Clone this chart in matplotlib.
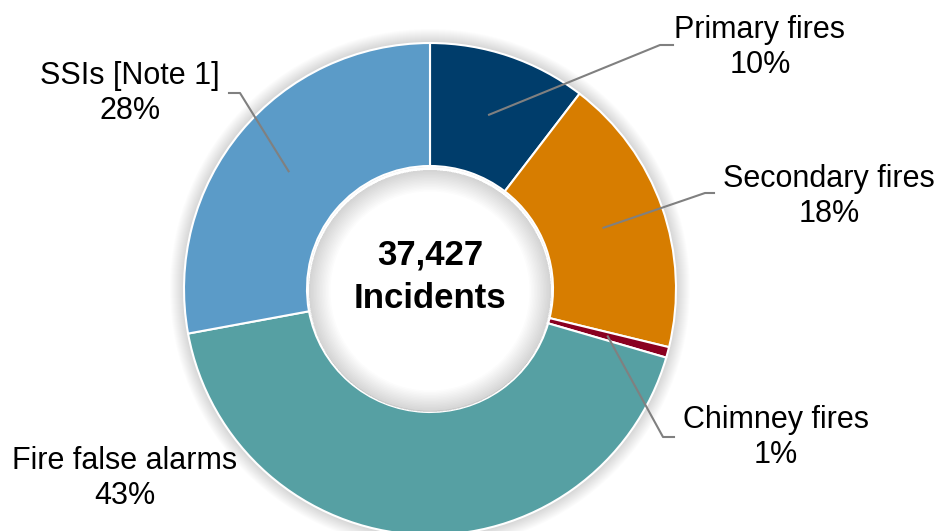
import numpy as np
import matplotlib.pyplot as plt
from matplotlib.patches import Wedge, Circle

plt.rcParams['font.family'] = ['Liberation Sans', 'DejaVu Sans']

# data
categories = ['Primary fires', 'Secondary fires', 'Chimney fires', 'Fire false alarms', 'SSIs [Note 1]']
shares = [10.4, 18.4, 0.7, 42.6, 27.9]
total_incidents = 37427
colors = ['#003d6b', '#d77d00', '#8a0020', '#56a0a3', '#5b9bc8']

W, H = 939, 531
fig = plt.figure(figsize=(W / 100, H / 100), dpi=100)
ax = fig.add_axes([0, 0, 1, 1])


def py(y):
    # pixel row (from top) -> data y
    return H - y


cx, cy = 430, py(289)
R, ring = 246, 123

# soft shadow around outer edge and inside the hole
for i in range(14):
    ax.add_patch(Circle((cx, cy), R + 14 - i, color='black', alpha=0.012, lw=0, zorder=0))
for i in range(14):
    ax.add_patch(Wedge((cx, cy - 2), R - ring - 2, 0, 360, width=2 + i * 1.5,
                       color='black', alpha=0.012, lw=0, zorder=3))

wedges, _ = ax.pie(shares, colors=colors, center=(cx, cy), radius=R, startangle=90,
                   counterclock=False,
                   wedgeprops=dict(width=ring, edgecolor='white', linewidth=1.5))
ax.add_patch(Circle((cx, cy), R - ring - 1, color='white', lw=0, zorder=2))

# labels: (text x, text y of first line, elbow x, elbow y, end x) in pixels
label_pos = {
    'Primary fires': (760, 30, 660, 45, 673),
    'Secondary fires': (829, 179, 705, 193, 714),
    'Chimney fires': (776, 420, 663, 437, 674),
    'Fire false alarms': (125, 461, None, None, None),
    'SSIs [Note 1]': (130, 76, 240, 93, 229),
}

for w, name, share in zip(wedges, categories, shares):
    tx, ty, ex, ey, endx = label_pos[name]
    ax.text(tx, py(ty), name, ha='center', va='center', fontsize=22, color='black', zorder=6)
    ax.text(tx, py(ty + 35), f'{share:.0f}%', ha='center', va='center', fontsize=22,
            color='black', zorder=6)
    if ex is None:
        continue
    mid = np.deg2rad((w.theta1 + w.theta2) / 2)
    sx, sy = cx + 184 * np.cos(mid), cy + 184 * np.sin(mid)
    ax.plot([sx, ex, endx], [sy, py(ey), py(ey)], color='#808080', lw=1.5, zorder=5)

ax.text(cx, py(255), f'{total_incidents:,}', ha='center', va='center', fontsize=25,
        fontweight='bold', zorder=6)
ax.text(cx, py(299), 'Incidents', ha='center', va='center', fontsize=25,
        fontweight='bold', zorder=6)

ax.set_xlim(0, W)
ax.set_ylim(0, H)
ax.set_aspect('equal')
ax.axis('off')

fig.savefig('out.png', dpi=100)
